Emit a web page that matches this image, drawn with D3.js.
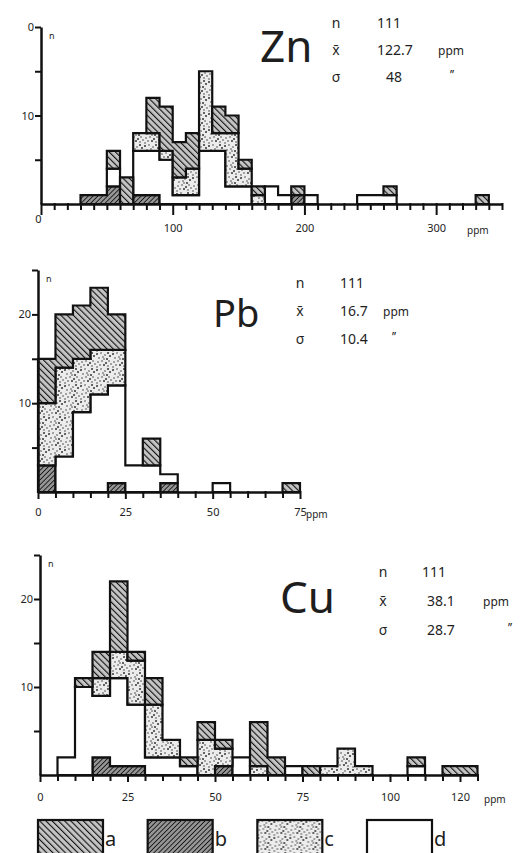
<!DOCTYPE html>
<html>
<head>
<meta charset="utf-8">
<script src="https://cdn.jsdelivr.net/npm/d3@7"></script>
<style>
  body { margin: 0; background: #fff; }
  svg { display: block; }
  text { font-family: "Noto Sans", "DejaVu Sans", sans-serif; fill: #1e1e1e; }
</style>
</head>
<body>
<svg id="chart" width="524" height="853"></svg>
<script>
// stack order, bottom to top
const layers = ["b", "d", "c", "a"];
const legendKeys = ["a", "b", "c", "d"];

// Zn, 10 ppm classes (class start)
const znBins = [30, 40, 50, 60, 70, 80, 90, 100, 110, 120, 130, 140, 150, 160, 170, 180, 190, 200, 240, 250, 260, 330];
const znA = [0, 0, 2, 3, 0, 4, 5, 4, 4, 0, 3, 2, 1, 1, 0, 0, 1, 0, 0, 0, 1, 1];
const znB = [1, 1, 2, 0, 1, 1, 0, 0, 0, 0, 0, 0, 0, 0, 0, 0, 1, 0, 0, 0, 0, 0];
const znC = [0, 0, 0, 0, 2, 2, 1, 2, 3, 9, 2, 6, 2, 1, 0, 0, 0, 0, 0, 0, 0, 0];
const znD = [0, 0, 2, 0, 5, 5, 5, 1, 1, 6, 6, 2, 2, 0, 2, 1, 0, 1, 1, 1, 1, 0];
const znXLabels = [0, 100, 200, 300];
const znStats = ["111", "122.7", "48"];

// Pb, 5 ppm classes
const pbBins = [0, 5, 10, 15, 20, 25, 30, 35, 50, 70];
const pbA = [5, 6, 6, 7, 4, 0, 3, 0, 0, 1];
const pbB = [3, 0, 0, 0, 1, 0, 0, 1, 0, 0];
const pbC = [7, 10, 6, 5, 4, 0, 0, 0, 0, 0];
const pbD = [0, 4, 9, 11, 11, 3, 3, 1, 1, 0];
const pbXLabels = [0, 25, 50, 75];
const pbStats = ["111", "16.7", "10.4"];

// Cu, 5 ppm classes
const cuBins = [5, 10, 15, 20, 25, 30, 35, 40, 45, 50, 55, 60, 65, 70, 75, 80, 85, 90, 105, 115, 120];
const cuA = [0, 1, 3, 8, 1, 3, 0, 1, 2, 1, 0, 5, 2, 0, 1, 0, 0, 0, 1, 1, 1];
const cuB = [0, 0, 2, 1, 1, 0, 0, 0, 0, 1, 0, 0, 0, 0, 0, 0, 0, 0, 0, 0, 0];
const cuC = [0, 0, 2, 3, 5, 6, 2, 0, 4, 2, 0, 1, 0, 0, 0, 1, 3, 1, 0, 0, 0];
const cuD = [2, 10, 7, 10, 7, 2, 2, 1, 0, 0, 2, 0, 0, 1, 0, 0, 0, 0, 1, 0, 0];
const cuXLabels = [0, 25, 50, 75, 100, 120];
const cuStats = ["111", "38.1", "28.7"];

const svg = d3.select("#chart");
const defs = svg.append("defs");

// hatch patterns
function hatch(id, size, angle, bg, sw) {
  const p = defs.append("pattern").attr("id", id)
    .attr("patternUnits", "userSpaceOnUse")
    .attr("width", size).attr("height", size)
    .attr("patternTransform", `rotate(${angle})`);
  p.append("rect").attr("width", size).attr("height", size).attr("fill", bg);
  p.append("line").attr("x1", 0).attr("y1", 0).attr("x2", 0).attr("y2", size)
    .attr("stroke", "#111").attr("stroke-width", sw);
}
hatch("pa", 4.4, -45, "#c4c4c4", 2.2);
hatch("pb", 3.4, 45, "#959595", 1.7);

// stipple
const dots = [[1,2],[5,1],[9,3],[12,1],[3,6],[7,5],[11,7],[2,10],[6,9],[10,11],[13,9],[4,13],[8,13],[12,14],[1,15],[14,4],[15,12],[8,7]];
const stip = defs.append("pattern").attr("id", "pc")
  .attr("patternUnits", "userSpaceOnUse").attr("width", 16).attr("height", 16);
stip.append("rect").attr("width", 16).attr("height", 16).attr("fill", "#ececec");
stip.selectAll("circle").data(dots).join("circle")
  .attr("cx", d => d[0]).attr("cy", d => d[1])
  .attr("r", (d, i) => i % 3 === 0 ? 1 : 0.75).attr("fill", "#333");

const fills = { a: "url(#pa)", b: "url(#pb)", c: "url(#pc)", d: "#ffffff" };
const line = d3.line();

function panel(p) {
  const x = d3.scaleLinear().domain(p.xDomain).range(p.xRange);
  const y = d3.scaleLinear().domain(p.yDomain).range(p.yRange);
  const rows = p.bins.map((bin, i) => ({ bin, a: p.a[i], b: p.b[i], c: p.c[i], d: p.d[i] }));
  const stacked = d3.stack().keys(layers)(rows);
  const g = svg.append("g");

  // each layer drawn as the outline of its neighbouring classes, like a step histogram
  stacked.forEach(s => {
    const groups = [];
    s.filter(v => v[1] > v[0]).forEach(v => {
      const run = groups[groups.length - 1];
      const prev = run && run[run.length - 1];
      if (prev && Math.abs(prev.data.bin + p.step - v.data.bin) < 1e-6 && v[0] < prev[1] && v[1] > prev[0]) run.push(v);
      else groups.push([v]);
    });
    g.append("g").selectAll("path").data(groups).join("path")
      .attr("d", run => {
        const pts = [];
        run.forEach(v => { pts.push([x(v.data.bin), y(v[0])], [x(v.data.bin + p.step), y(v[0])]); });
        run.slice().reverse().forEach(v => { pts.push([x(v.data.bin + p.step), y(v[1])], [x(v.data.bin), y(v[1])]); });
        return line(pts) + "Z";
      })
      .attr("fill", fills[s.key])
      .attr("stroke", "#111").attr("stroke-width", 2.2).attr("stroke-linejoin", "miter");
  });

  const xAxis = d3.axisBottom(x)
    .tickValues(d3.range(p.xDomain[0], p.xDomain[1] + 0.01, p.step))
    .tickSize(6).tickSizeOuter(0)
    .tickFormat(v => p.xLabels.includes(v) ? v : "");
  const gx = g.append("g").attr("transform", `translate(0,${p.yRange[0]})`).call(xAxis);
  gx.select(".domain").attr("stroke-width", 2.5).attr("stroke", "#111");
  gx.selectAll(".tick line").attr("stroke-width", 2).attr("stroke", "#111")
    .attr("y1", -1).attr("y2", v => p.xLabels.includes(v) ? p.major : 6);
  gx.selectAll(".tick text").attr("font-size", 11).attr("y", p.labelDy)
    .attr("fill", "#1e1e1e");
  if (p.zeroText) gx.selectAll(".tick text").filter(v => v === 0).attr("y", p.labelDy - 9).attr("dx", -3);
  g.append("text").attr("x", p.ppmX).attr("y", p.yRange[0] + p.labelDy + 10)
    .attr("font-size", 10).text("ppm");

  const yAxis = d3.axisLeft(y)
    .tickValues(d3.range(5, p.yDomain[1] + 0.01, 5))
    .tickSize(6).tickSizeOuter(0)
    .tickFormat(v => p.yLabels[v] !== undefined ? p.yLabels[v] : "");
  const gy = g.append("g").attr("transform", `translate(${p.xRange[0]},0)`).call(yAxis);
  gy.select(".domain").attr("stroke-width", 2.5).attr("stroke", "#111");
  gy.selectAll(".tick line").attr("stroke-width", 2).attr("stroke", "#111");
  gy.selectAll(".tick text").attr("font-size", 11).attr("x", -7).attr("fill", "#1e1e1e");
  g.append("text").attr("x", p.xRange[0] + 8).attr("y", p.yRange[1] + 12)
    .attr("font-size", 9).text("n");

  // element name and stats
  g.append("text").attr("x", p.nameX).attr("y", p.nameY)
    .attr("font-size", p.nameSize).text(p.name);
  const symbols = ["n", "x\u0304", "\u03c3"];
  symbols.forEach((s, i) => {
    const yy = p.statY + i * p.statGap;
    g.append("text").attr("x", p.statX).attr("y", yy).attr("text-anchor", "middle")
      .attr("font-size", 14).text(s);
    g.append("text").attr("x", p.valX[i]).attr("y", yy)
      .attr("font-size", 14).text(p.stats[i]);
  });
  g.append("text").attr("x", p.ppmStatX).attr("y", p.statY + p.statGap)
    .attr("font-size", 12).text("ppm");
  g.append("text").attr("x", p.dittoX).attr("y", p.statY + 2 * p.statGap - 3)
    .attr("font-size", 12).text("\u2019\u2019");
}

panel({
  name: "Zn", bins: znBins, a: znA, b: znB, c: znC, d: znD, step: 10,
  xDomain: [0, 350], xRange: [41, 502], yDomain: [0, 20], yRange: [204, 27],
  xLabels: znXLabels, yLabels: { 10: "10", 20: "0" }, major: 11, labelDy: 20, zeroText: true,
  ppmX: 467, nameX: 260, nameY: 62, nameSize: 44,
  statX: 336, statY: 28, statGap: 27, stats: znStats, valX: [377, 377, 386],
  ppmStatX: 438, dittoX: 450
});

panel({
  name: "Pb", bins: pbBins, a: pbA, b: pbB, c: pbC, d: pbD, step: 5,
  xDomain: [0, 75], xRange: [38, 300], yDomain: [0, 25], yRange: [492, 270],
  xLabels: pbXLabels, yLabels: { 10: "10", 20: "20" }, major: 7, labelDy: 16, zeroText: false,
  ppmX: 306, nameX: 213, nameY: 327, nameSize: 38,
  statX: 300, statY: 288, statGap: 28, stats: pbStats, valX: [340, 340, 340],
  ppmStatX: 383, dittoX: 392
});

panel({
  name: "Cu", bins: cuBins, a: cuA, b: cuB, c: cuC, d: cuD, step: 5,
  xDomain: [0, 125], xRange: [40, 477.5], yDomain: [0, 25], yRange: [775, 555],
  xLabels: cuXLabels, yLabels: { 10: "10", 20: "20" }, major: 7, labelDy: 18, zeroText: false,
  ppmX: 484, nameX: 280, nameY: 613, nameSize: 44,
  statX: 383, statY: 577, statGap: 29, stats: cuStats, valX: [422, 427, 427],
  ppmStatX: 483, dittoX: 508
});

// legend
const legX = d3.scalePoint().domain(legendKeys).range([38, 367]);
const leg = svg.append("g").selectAll("g").data(legendKeys).join("g")
  .attr("transform", k => `translate(${legX(k)},820)`);
leg.append("rect").attr("width", 65).attr("height", 40)
  .attr("fill", k => fills[k]).attr("stroke", "#111").attr("stroke-width", 2.2);
leg.append("text").attr("x", 67).attr("y", 26).attr("font-size", 20).text(k => k);
</script>
</body>
</html>
